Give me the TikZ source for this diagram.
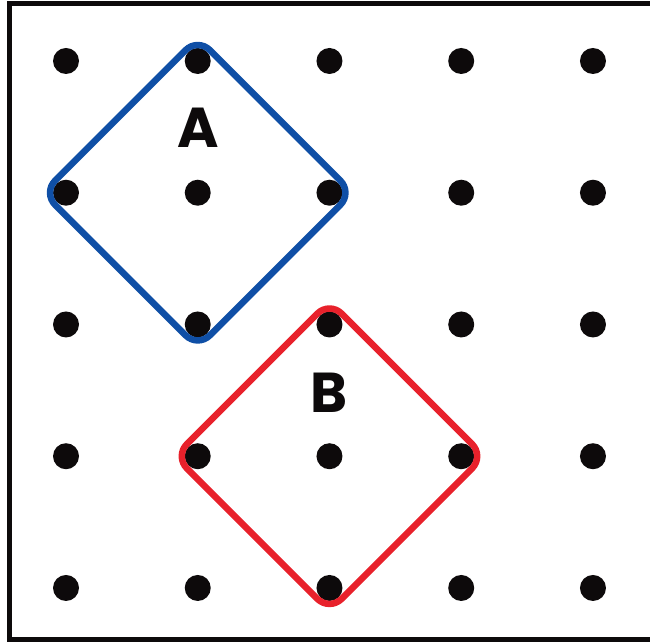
\documentclass[tikz,border=0pt]{standalone}
\usepackage{fontspec}
\setsansfont{Poppins}
\usepackage{tikz}
\usetikzlibrary{calc,positioning}
\definecolor{pegblack}{HTML}{0D0A0B}
\definecolor{bandblue}{HTML}{0F4FA6}
\definecolor{bandred}{HTML}{E8212B}

\begin{document}
\begin{tikzpicture}[
  x=2.635cm, y=2.635cm,
  peg/.style={
    circle,
    fill=pegblack,
    minimum size=0.52cm,
    inner sep=0pt
  },
  band/.style={line width=0.13cm,rounded corners=0.34cm,line join=round},
  letter/.style={font=\sffamily\bfseries\fontsize{32}{32}\selectfont,text=pegblack,inner sep=0pt}
]
 \useasboundingbox (-0.501,-0.410) rectangle (4.433,4.463);
 \draw[line width=0.1cm,pegblack] (4.6,4.436) -- (-0.429,4.436) -- (-0.429,-0.391) -- (4.6,-0.391);
 \foreach \i in {0,...,4}
  \foreach \j in {0,...,4}
   \node[peg] (p-\i-\j) at (\i,\j) {};
 \draw[band,bandblue] ([yshift=0.46cm]p-1-4.center) -- ([xshift=0.46cm]p-2-3.center)
   -- ([yshift=-0.46cm]p-1-2.center) -- ([xshift=-0.46cm]p-0-3.center) -- cycle;
 \draw[band,bandred] ([yshift=0.46cm]p-2-2.center) -- ([xshift=0.46cm]p-3-1.center)
   -- ([yshift=-0.46cm]p-2-0.center) -- ([xshift=-0.46cm]p-1-1.center) -- cycle;
 \node[letter] (lblA) at (1,3.49) {A};
 \node[letter] (lblB) at (2,1.48) {B};
\end{tikzpicture}
\end{document}
